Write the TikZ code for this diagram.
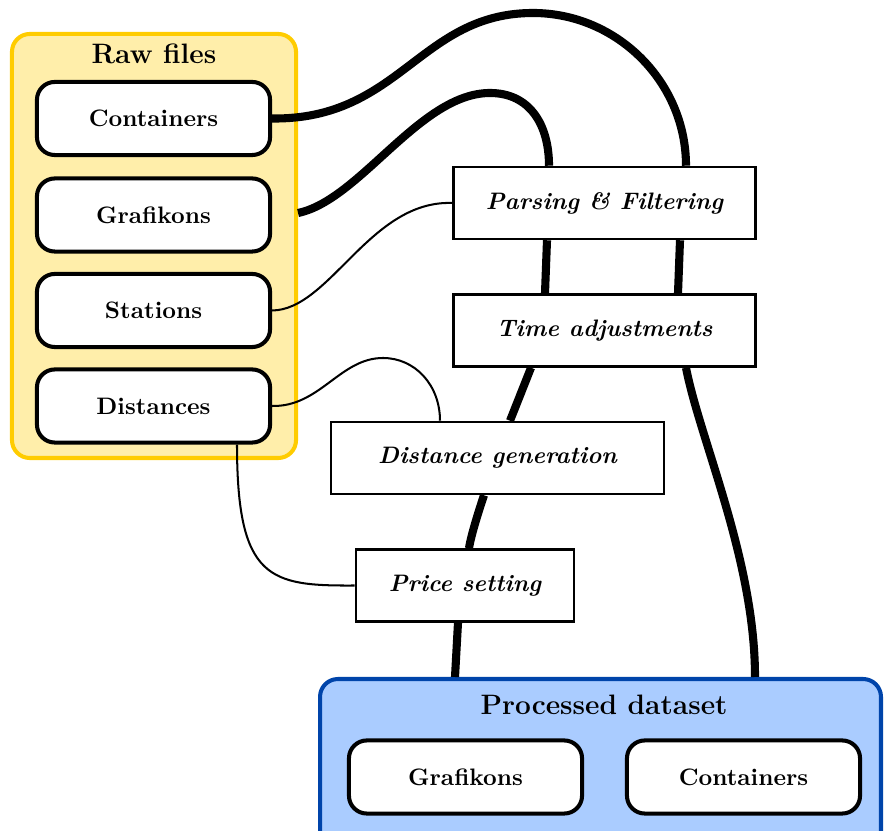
\documentclass[tikz,border=0pt]{standalone}
\usetikzlibrary{calc}
\definecolor{rawfill}{HTML}{FFEEAA}
\definecolor{rawdraw}{HTML}{FFCC00}
\definecolor{procfill}{HTML}{AACCFF}
\definecolor{procdraw}{HTML}{0044AA}
\begin{document}
\begin{tikzpicture}[x=0.42pt,y=-0.42pt,
  groupbox/.style={draw, line width=1.7pt, rounded corners=7.5pt, inner sep=0pt},
  databox/.style={draw, fill=white, line width=1.7pt, rounded corners=7.5pt,
     minimum width=97.9pt, minimum height=30.7pt, inner sep=0pt, font=\bfseries},
  procbox/.style={draw, fill=white, line width=1.1pt, minimum height=30.2pt,
     inner sep=0pt, font=\bfseries\itshape},
  titletext/.style={font=\fontsize{11.8}{14}\selectfont\bfseries, inner sep=0pt},
  thickflow/.style={line width=3.4pt},
  thinflow/.style={line width=0.85pt}]
\useasboundingbox (0,0) rectangle (885,831);
\clip (0,0) rectangle (885,831);
% group boxes
\node[groupbox, fill=rawfill, draw=rawdraw, minimum width=119.3pt, minimum height=178.1pt] (raw) at (154,246) {};
\node[titletext] (rawtitle) at (154,54) {Raw files};
\node[groupbox, fill=procfill, draw=procdraw, minimum width=235.6pt, minimum height=71.8pt] (proc) at (600.5,764.5) {};
\node[titletext] (proctitle) at (604,705) {Processed dataset};
% raw data
\node[databox] (cont) at (153.5,118.5) {Containers};
\node[databox] (graf) at (153.5,215) {Grafikons};
\node[databox] (stat) at (153.5,310.5) {Stations};
\node[databox] (dist) at (153.5,406) {Distances};
% processed data
\node[databox] (pgraf) at (465.5,777) {Grafikons};
\node[databox] (pcont) at (743.5,777) {Containers};
% process steps
\node[procbox, minimum width=126.8pt] (parse) at (604.5,203) {Parsing \& Filtering};
\node[procbox, minimum width=126.8pt] (time) at (604.5,330.5) {Time adjustments};
\node[procbox, minimum width=139.9pt] (distgen) at (497.5,458) {Distance generation};
\node[procbox, minimum width=91.6pt] (price) at (465,585.5) {Price setting};
% containers flow
\draw[thickflow] (cont.east) .. controls (400,120) and (420,13) .. (533,13)
   .. controls (617,13) and (686,82) .. (686,0 |- parse.north);
\draw[thickflow] (680,0 |- parse.south) -- (678,0 |- time.north);
\draw[thickflow] (686,0 |- time.south) .. controls (700,440) and (755,560) .. (755,0 |- proc.north);
% grafikons flow
\draw[thickflow] (raw.east |- 0,213) .. controls (360,200) and (420,93) .. (490,93)
   .. controls (530,93) and (549,125) .. (549,0 |- parse.north);
\draw[thickflow] (547,0 |- parse.south) -- (545,0 |- time.north);
\draw[thickflow] (531,0 |- time.south) -- (510,0 |- distgen.north);
\draw[thickflow] (484,0 |- distgen.south) .. controls (480,507) and (471,535) .. (469,0 |- price.north);
\draw[thickflow] (458,0 |- price.south) -- (455,0 |- proc.north);
% thin inputs
\draw[thinflow] (stat.east) .. controls (330,310) and (370,200) .. (parse.west);
\draw[thinflow] (dist.east) .. controls (320,407) and (340,358) .. (383,358)
   .. controls (415,358) and (440,385) .. (440,0 |- distgen.north);
\draw[thinflow] (237,0 |- dist.south) .. controls (237,580) and (270,586) .. (price.west);
\end{tikzpicture}
\end{document}
